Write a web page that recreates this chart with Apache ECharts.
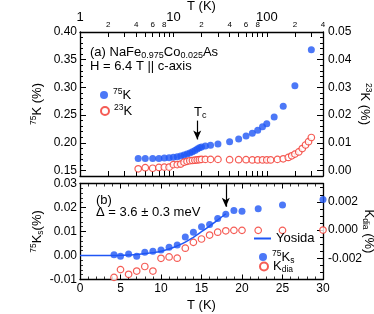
<!DOCTYPE html>
<html><head><meta charset="utf-8">
<script src="https://cdn.jsdelivr.net/npm/echarts@6/dist/echarts.min.js"></script>
<style>html,body{margin:0;padding:0;background:#fff}#c{width:374px;height:314px}</style>
</head><body><div id="c"></div>
<script>
// ---- data ----
const T_75 = [4.2,5,6,7,8,9,10,11,12,13,14,15,16,17,18,19,20,22,25,30,40,50,60,70,80,90,100,120,150,200,300];
const K_75 = [0.1716,0.1716,0.1718,0.1716,0.1725,0.1730,0.1737,0.1747,0.1760,0.1778,0.1795,0.1815,0.1838,0.1862,0.1888,0.1910,0.1925,0.1940,0.1955,0.1980,0.2020,0.2070,0.2120,0.2170,0.2225,0.2290,0.2345,0.2466,0.2660,0.3030,0.3680];
const T_23 = [4.2,5,6,7,8,9,10,11,12,13,14,15,16,17,18,19,20,22,25,30,40,50,60,70,80,90,100,110,130,150,170,185,200,220,240,260,280,300];
const K_23 = [0.0006,0.0010,0.0008,0.0011,0.0012,0.0012,0.0021,0.0021,0.0023,0.0030,0.0033,0.0035,0.0036,0.0037,0.0038,0.0039,0.0040,0.0040,0.0040,0.0040,0.0039,0.0039,0.0039,0.0038,0.0038,0.0038,0.0038,0.0038,0.0040,0.0042,0.0047,0.0053,0.0059,0.0067,0.0079,0.0092,0.0104,0.0119];
const T_low = [4.2,5,6,7,8,9,10,11,12,13,14,15,16,17,18,19,20,22,25,30];
const K_75s = [0.0003,-0.0003,0.0006,-0.0003,0.0014,0.0018,0.0023,0.0034,0.0044,0.0077,0.0097,0.0120,0.0129,0.0154,0.0172,0.0187,0.0184,0.0195,0.0210,0.0233];
const K_dia = [-0.00335,-0.00280,-0.00313,-0.00290,-0.00258,-0.00290,-0.00200,-0.00190,-0.00199,-0.00128,-0.00087,-0.00063,-0.00035,-0.00015,-0.00005,-0.00002,-0.00002,-0.00002,-0.00002,0.0];
const T_yos = [0,1,2,3,4,5,6,7,8,9,10,11,12,13,14,15,16,17,18];
const K_yos = [0,0,0,0,0,0.0001,0.0002,0.0004,0.0008,0.0012,0.0018,0.0027,0.0040,0.0056,0.0076,0.0099,0.0123,0.0148,0.0174];
const logTickLabels = [1,2,4,6,8,10,20,40,60,80,100,200,400];
const logTicks = [1,2,3,4,5,6,7,8,9,10,20,30,40,50,60,70,80,90,100,200,300,400];
const ticksK75 = [0.15,0.20,0.25,0.30,0.35,0.40];
const ticksK23 = [0,0.01,0.02,0.03,0.04,0.05];
const ticksKdia = [-0.002,0,0.002];
const Tc = 18;

// ---- styling ----
const F = '"Liberation Sans", Arial, Helvetica, sans-serif';
const BLUE = '#1f56f5', RED = '#f2332b';
const R = {
  b: {fontSize: 13, lineHeight: 16, fontFamily: F, color: '#000'},
  sup: {fontSize: 8.5, lineHeight: 9, verticalAlign: 'top', fontFamily: F, color: '#000'},
  sub: {fontSize: 8.5, lineHeight: 9, verticalAlign: 'bottom', fontFamily: F, color: '#000'}
};
const RG = {s: {fontSize: 9, lineHeight: 9, verticalAlign: 'bottom', fontFamily: F, fill: '#000'}};
const axisLine = {show: true, onZero: false, lineStyle: {color: '#000', width: 1.3}};
const tick = (len, extra) => Object.assign({show: true, inside: true, length: len, lineStyle: {color: '#000', width: 1}}, extra || {});
const minor = n => ({show: true, splitNumber: n, length: 3, lineStyle: {color: '#000', width: 0.8}});
const fmt = (step, digits) => v => {
  if (Math.abs(v / step - Math.round(v / step)) > 1e-6) return '';
  if (Math.abs(v) < step * 1e-6) v = 0;
  return v.toFixed(digits);
};
const lab = (margin, step, digits, size) => ({show: true, margin: margin, fontSize: size || 12, fontFamily: F, color: '#000', formatter: fmt(step, digits)});
const zip = (a, b) => a.map((t, i) => [t, b[i]]);
const logFmt = v => {
  const r = Math.round(v);
  if (r === 1 || r === 10 || r === 100) return '{maj|' + r + '}';
  return '{mn|' + String(r).charAt(0) + '}';
};
const overlay = (grid, pos, min, max, vals) => ({gridIndex: grid, type: 'value', position: pos, min: min, max: max,
  axisLine: {show: false, onZero: false}, axisLabel: {show: false}, splitLine: {show: false},
  axisTick: tick(6, {customValues: vals}), minorTick: {show: false}});
const nameStyle = {fontSize: 13, fontFamily: F, color: '#000'};

const chart = echarts.init(document.getElementById('c'), null, {renderer: 'canvas'});
chart.setOption({
  animation: false,
  backgroundColor: '#fff',
  grid: [
    {left: 80, top: 32, width: 243, height: 144, outerBoundsMode: 'none', containLabel: false},
    {left: 80, top: 183.5, width: 243, height: 96, outerBoundsMode: 'none', containLabel: false}
  ],
  xAxis: [
    {gridIndex: 0, type: 'log', logBase: 10, position: 'top', min: 1, max: 400,
     axisLine: axisLine, axisTick: tick(5, {customValues: logTicks}), minorTick: {show: false}, splitLine: {show: false},
     axisLabel: {show: true, customValues: logTickLabels, margin: 3, formatter: logFmt,
       rich: {maj: {fontSize: 13, fontFamily: F, color: '#000', padding: [0, 0, 5, 0]}, mn: {fontSize: 8, fontFamily: F, color: '#000'}}},
     name: 'T (K)', nameLocation: 'middle', nameGap: 19, nameMoveOverlap: false, nameTextStyle: nameStyle},
    {gridIndex: 0, type: 'log', logBase: 10, position: 'bottom', min: 1, max: 400,
     axisLine: axisLine, axisTick: tick(5, {customValues: logTicks}), minorTick: {show: false}, splitLine: {show: false}, axisLabel: {show: false}},
    {gridIndex: 1, type: 'value', position: 'bottom', min: 0, max: 30, interval: 5,
     axisLine: axisLine, axisTick: tick(5), minorTick: minor(5), splitLine: {show: false}, axisLabel: lab(3, 5, 0, 12),
     name: 'T (K)', nameLocation: 'middle', nameGap: 19, nameMoveOverlap: false, nameTextStyle: nameStyle},
    {gridIndex: 1, type: 'value', position: 'top', min: 0, max: 30, interval: 5,
     axisLine: axisLine, axisTick: tick(5), minorTick: minor(5), splitLine: {show: false}, axisLabel: {show: false}}
  ],
  yAxis: [
    {gridIndex: 0, type: 'value', position: 'left', min: 0.14, max: 0.40, interval: 0.01,
     axisLine: axisLine, axisTick: tick(3), minorTick: {show: false}, splitLine: {show: false}, axisLabel: lab(3, 0.05, 2),
     name: '{sup|75}{b|K (%)}', nameLocation: 'middle', nameGap: 35, nameRotate: 90, nameMoveOverlap: false, nameTextStyle: {rich: R}},
    {gridIndex: 0, type: 'value', position: 'right', min: -0.002, max: 0.05, interval: 0.002,
     axisLine: axisLine, axisTick: tick(3), minorTick: {show: false}, splitLine: {show: false}, axisLabel: lab(5, 0.01, 2),
     name: '{sup|23}{b|K (%)}', nameLocation: 'middle', nameGap: 34, nameRotate: -90, nameMoveOverlap: false, nameTextStyle: {rich: R}},
    {gridIndex: 1, type: 'value', position: 'left', min: -0.01, max: 0.03, interval: 0.01,
     axisLine: axisLine, axisTick: tick(6), minorTick: minor(5), splitLine: {show: false}, axisLabel: lab(3, 0.01, 2),
     name: '{sup|75}{b|K}{sub|s}{b|(%)}', nameLocation: 'middle', nameGap: 35, nameRotate: 90, nameMoveOverlap: false, nameTextStyle: {rich: R}},
    {gridIndex: 1, type: 'value', position: 'right', min: -0.0035, max: 0.0033, interval: 0.0005,
     axisLine: axisLine, axisTick: tick(3), minorTick: {show: false}, splitLine: {show: false}, axisLabel: lab(5, 0.002, 3),
     name: '{b|K}{sub|dia}{b| (%)}', nameLocation: 'middle', nameGap: 38, nameRotate: -90, nameMoveOverlap: false, nameTextStyle: {rich: R}},
    overlay(0, 'left', 0.14, 0.40, ticksK75),
    overlay(0, 'right', -0.002, 0.05, ticksK23),
    overlay(1, 'right', -0.0035, 0.0033, ticksKdia)
  ],
  legend: [
    {data: ['75K'], left: 100, top: 87, padding: 0, itemWidth: 8, itemHeight: 8, selectedMode: false,
     formatter: () => '{sup|75}{b|K}', textStyle: {rich: R, color: '#000'}},
    {data: ['23K'], left: 100, top: 103, padding: 0, itemWidth: 8, itemHeight: 8, selectedMode: false,
     formatter: () => '{sup|23}{b|K}', textStyle: {rich: R, color: '#000'}},
    {data: [{name: 'Yosida', icon: 'rect'}], left: 254, top: 232, padding: 0, itemWidth: 17, itemHeight: 2, selectedMode: false,
     formatter: () => '{b|Yosida}', textStyle: {rich: R, color: '#000'}},
    {data: ['75Ks'], left: 259, top: 249, padding: 0, itemWidth: 8, itemHeight: 8, selectedMode: false,
     formatter: () => '{sup|75}{b|K}{sub|s}', textStyle: {rich: R, color: '#000'}},
    {data: ['Kdia'], left: 259, top: 260, padding: 0, itemWidth: 8, itemHeight: 8, selectedMode: false,
     formatter: () => '{b|K}{sub|dia}', textStyle: {rich: R, color: '#000'}}
  ],
  graphic: [
    {type: 'text', x: 90, y: 52, silent: true, style: {text: '(a) NaFe{s|0.975}Co{s|0.025}As', rich: RG, fontSize: 13, lineHeight: 16, fontFamily: F, fill: '#000', verticalAlign: 'middle'}},
    {type: 'text', x: 90, y: 66, silent: true, style: {text: 'H = 6.4 T || c-axis', fontSize: 13, fontFamily: F, fill: '#000', verticalAlign: 'middle'}},
    {type: 'text', x: 194, y: 112, silent: true, style: {text: 'T{s|c}', rich: RG, fontSize: 13, lineHeight: 16, fontFamily: F, fill: '#000', verticalAlign: 'middle'}},
    {type: 'text', x: 96, y: 200, silent: true, style: {text: '(b)', fontSize: 13, fontFamily: F, fill: '#000', verticalAlign: 'middle'}},
    {type: 'text', x: 96, y: 212, silent: true, style: {text: '\u0394 = 3.6 \u00b1 0.3 meV', fontSize: 13, fontFamily: F, fill: '#000', verticalAlign: 'middle'}}
  ],
  series: [
    {type: 'scatter', name: '75K', xAxisIndex: 0, yAxisIndex: 0, data: zip(T_75, K_75), symbol: 'circle', symbolSize: 7,
     itemStyle: {color: BLUE},
     markLine: {silent: true, symbol: ['none', 'arrow'], symbolSize: [6, 9], label: {show: false}, animation: false,
       lineStyle: {color: '#000', width: 1.2, type: 'solid'}, emphasis: {disabled: true},
       data: [[{coord: [Tc, 0.240]}, {coord: [Tc, 0.206]}]]}},
    {type: 'scatter', name: '23K', xAxisIndex: 0, yAxisIndex: 1, data: zip(T_23, K_23), symbol: 'circle', symbolSize: 6.5,
     itemStyle: {color: '#fff', borderColor: RED, borderWidth: 1.2}},
    {type: 'line', name: 'Yosida', xAxisIndex: 2, yAxisIndex: 2, data: zip(T_yos, K_yos), smooth: true, symbol: 'none', showSymbol: false,
     lineStyle: {color: BLUE, width: 1.5}, itemStyle: {color: BLUE}},
    {type: 'scatter', name: '75Ks', xAxisIndex: 2, yAxisIndex: 2, data: zip(T_low, K_75s), symbol: 'circle', symbolSize: 7,
     itemStyle: {color: BLUE},
     markLine: {silent: true, symbol: ['none', 'arrow'], symbolSize: [6, 9], label: {show: false}, animation: false,
       lineStyle: {color: '#000', width: 1.2, type: 'solid'}, emphasis: {disabled: true},
       data: [[{coord: [Tc, 0.0294]}, {coord: [Tc, 0.0203]}]]}},
    {type: 'scatter', name: 'Kdia', xAxisIndex: 2, yAxisIndex: 3, data: zip(T_low, K_dia), symbol: 'circle', symbolSize: 6.5,
     itemStyle: {color: '#fff', borderColor: RED, borderWidth: 1.2}}
  ]
});
</script></body></html>
